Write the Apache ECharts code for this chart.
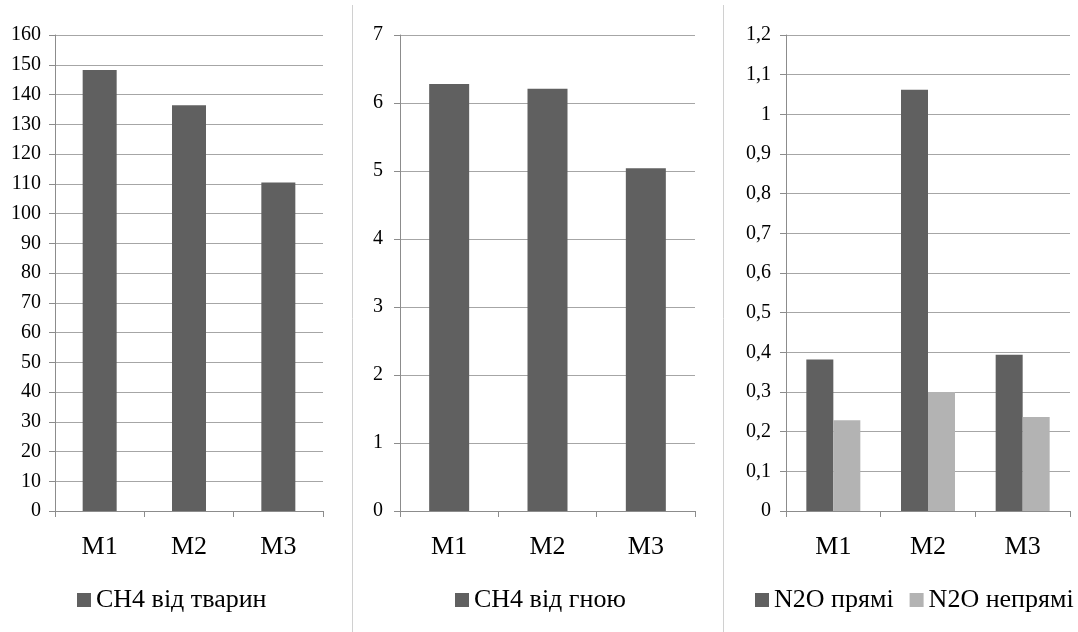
<!DOCTYPE html>
<html>
<head>
<meta charset="utf-8">
<script src="https://cdn.jsdelivr.net/npm/echarts@6/dist/echarts.min.js"></script>
<style>html,body{margin:0;padding:0;background:#fff}#c{width:1078px;height:632px}</style>
</head>
<body>
<div id="c"></div>
<script>
const categories = ['M1', 'M2', 'M3'];
const ch4Animals = [148.2, 136.4, 110.4];
const ch4Manure = [6.28, 6.21, 5.04];
const n2oDirect = [0.382, 1.062, 0.394];
const n2oIndirect = [0.229, 0.300, 0.237];
const seriesNames = ['СН4 від тварин', 'СН4 від гною', 'N2O прямі', 'N2O непрямі'];

const FONT = 'Liberation Serif';
const DARK = '#606060', LIGHT = '#b3b3b3';
const gridLine = '#a6a6a6', axisCol = '#8c8c8c';

function xAx(i) {
  return {
    type: 'category', gridIndex: i, data: categories,
    axisLine: { lineStyle: { color: axisCol, width: 1 } },
    axisTick: { show: true, length: 6, lineStyle: { color: axisCol } },
    axisLabel: { color: '#000', fontFamily: FONT, fontSize: 26, margin: 23 }
  };
}
function yAx(i, max, interval, margin, fmt) {
  return {
    type: 'value', gridIndex: i, min: 0, max: max, interval: interval,
    axisLine: { show: true, lineStyle: { color: axisCol, width: 1 } },
    axisTick: { show: true, length: 6, lineStyle: { color: axisCol } },
    splitLine: { lineStyle: { color: gridLine, width: 1 } },
    axisLabel: { color: '#000', fontFamily: FONT, fontSize: 20, margin: margin, formatter: fmt }
  };
}
const comma = v => String(Math.round(v * 10) / 10).replace('.', ',');
const legendText = { fontFamily: FONT, fontSize: 26, color: '#000' };

const chart = echarts.init(document.getElementById('c'), null, { renderer: 'canvas' });
chart.setOption({
  animation: false,
  backgroundColor: '#fff',
  textStyle: { fontFamily: FONT },
  grid: [
    { left: 55, top: 35, width: 268, height: 476 },
    { left: 400, top: 35, width: 295, height: 476 },
    { left: 786, top: 35, width: 284, height: 476 }
  ],
  xAxis: [xAx(0), xAx(1), xAx(2)],
  yAxis: [
    yAx(0, 160, 10, 14),
    yAx(1, 7, 1, 17),
    yAx(2, 1.2, 0.1, 15, comma)
  ],
  legend: [
    { data: [seriesNames[0]], left: 77, top: 587, padding: 0, itemWidth: 14, itemHeight: 14, itemGap: 16,
      textStyle: legendText, icon: 'rect' },
    { data: [seriesNames[1]], left: 455, top: 587, padding: 0, itemWidth: 14, itemHeight: 14, itemGap: 16,
      textStyle: legendText, icon: 'rect' },
    { data: [seriesNames[2], seriesNames[3]], left: 755, top: 587, padding: 0, itemWidth: 14, itemHeight: 14, itemGap: 16,
      textStyle: legendText, icon: 'rect' }
  ],
  graphic: [
    { type: 'line', shape: { x1: 352.5, y1: 5, x2: 352.5, y2: 632 }, style: { stroke: '#d0d0d0', lineWidth: 1 } },
    { type: 'line', shape: { x1: 723.5, y1: 5, x2: 723.5, y2: 632 }, style: { stroke: '#d0d0d0', lineWidth: 1 } }
  ],
  series: [
    { name: seriesNames[0], type: 'bar', xAxisIndex: 0, yAxisIndex: 0, data: ch4Animals, barWidth: 34, itemStyle: { color: DARK } },
    { name: seriesNames[1], type: 'bar', xAxisIndex: 1, yAxisIndex: 1, data: ch4Manure, barWidth: 40, itemStyle: { color: DARK } },
    { name: seriesNames[2], type: 'bar', xAxisIndex: 2, yAxisIndex: 2, data: n2oDirect, barWidth: 27, barGap: '0%', itemStyle: { color: DARK } },
    { name: seriesNames[3], type: 'bar', xAxisIndex: 2, yAxisIndex: 2, data: n2oIndirect, barWidth: 27, barGap: '0%', itemStyle: { color: LIGHT } }
  ]
});
</script>
</body>
</html>
